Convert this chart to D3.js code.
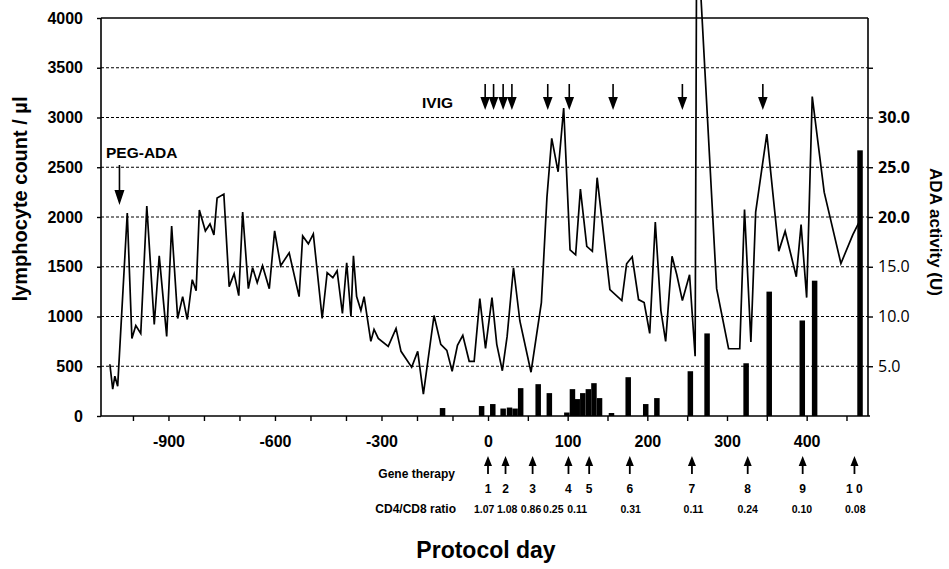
<!DOCTYPE html>
<html>
<head>
<meta charset="utf-8">
<script src="https://cdn.jsdelivr.net/npm/d3@7"></script>
<style>
  body { margin: 0; background: #fff; }
  svg text { font-family: "Liberation Sans", Arial, Helvetica, sans-serif; font-weight: bold; fill: #000; }
</style>
</head>
<body>
<svg id="chart" width="949" height="569"></svg>
<script>
// lymphocyte count per µl, by protocol day
const lymphDays = [-1065, -1057, -1051, -1043, -1016, -1003, -992, -978, -961, -940, -926, -905, -891, -874, -860, -847, -833, -822, -813, -796, -783, -772, -763, -744, -729, -715, -702, -691, -675, -663, -650, -635, -616, -601, -584, -560, -532, -522, -506, -492, -467, -453, -437, -425, -410, -398, -386, -379, -370, -358, -349, -330, -321, -309, -281, -259, -245, -215, -198, -182, -152, -133, -116, -101, -86, -71, -53, -39, -23, -7, 5, 11, 18, 24, 32, 40, 54, 67, 74, 80, 88, 95, 103, 110, 116, 124, 131, 137, 153, 168, 174, 181, 189, 196, 203, 210, 217, 223, 231, 237, 244, 253, 260, 262, 287, 302, 316, 322, 330, 336, 350, 365, 373, 387, 393, 400, 407, 422, 443, 458, 466];
const lymphCounts = [520, 270, 400, 300, 2040, 780, 910, 830, 2110, 920, 1610, 800, 1910, 980, 1200, 970, 1370, 1260, 2070, 1860, 1930, 1820, 2190, 2230, 1300, 1430, 1210, 2050, 1280, 1490, 1340, 1510, 1280, 1860, 1510, 1640, 1200, 1810, 1730, 1830, 980, 1440, 1390, 1460, 1030, 1540, 1000, 1610, 1200, 1060, 1200, 750, 870, 780, 700, 880, 650, 490, 650, 220, 1010, 720, 660, 450, 710, 810, 550, 550, 1180, 680, 1190, 720, 455, 800, 1490, 955, 440, 1140, 2200, 2790, 2455, 3095, 1670, 1620, 2280, 1705, 1655, 2395, 1270, 1160, 1530, 1600, 1170, 1140, 830, 1950, 1060, 750, 1605, 1420, 1160, 1420, 600, 5000, 1280, 676, 676, 2076, 743, 2050, 2833, 1657, 1857, 1400, 1923, 1190, 3210, 2250, 1533, 1823, 1950];

// ADA activity (U), bars
const adaDays = [-128, -18, 6, 19, 27, 34, 41, 63, 77, 99, 106, 112, 119, 126, 133, 140, 155, 176, 198, 212, 254, 275, 324, 353, 394.5, 410, 467];
const adaValues = [0.8, 1.0, 1.2, 0.75, 0.85, 0.75, 2.8, 3.2, 2.3, 0.35, 2.7, 1.7, 2.3, 2.7, 3.3, 1.8, 0.3, 3.9, 1.2, 1.8, 4.5, 8.3, 5.3, 12.5, 9.6, 13.6, 26.7];

// events
const pegAdaDay = -1038;
const ivigDays = [-8, 7, 19, 30, 75, 102, 157, 244, 345];
const geneDays = [0, 22, 56, 101, 127, 178, 256, 326, 395, 460];
const geneLabels = ["1", "2", "3", "4", "5", "6", "7", "8", "9", "1 0"];
const cd4cd8Ratios = ["1.07", "1.08", "0.86", "0.25", "0.11", "0.31", "0.11", "0.24", "0.10", "0.08"];
// day under which each ratio is printed (crowded ones are spread apart)
const ratioLabelDays = [-11, 24, 54, 82, 112, 179, 258, 326, 394, 461];

// axes
const lymphTicks = [0, 500, 1000, 1500, 2000, 2500, 3000, 3500, 4000];
const gridValues = [500, 1000, 1500, 2000, 2500, 3000, 3500];
const adaTicks = [5, 10, 15, 20, 25, 30, 35];
const adaLabelMax = 30;
const dayTicks = [-1000, -900, -800, -700, -600, -500, -400, -300, -200, -100, 0, 50, 100, 150, 200, 250, 300, 350, 400, 450];
const dayLabels = [-900, -600, -300, 0, 100, 200, 300, 400];

const svg = d3.select("#chart");
const plotL = 101, plotR = 868, plotT = 18, plotB = 416;

// broken time scale: pre-treatment days are compressed
const x = d3.scaleLinear().domain([-1090, 0, 477]).range([plotL, 488, plotR]);
const y = d3.scaleLinear().domain([0, 4000]).range([plotB, plotT]);
const yAda = d3.scaleLinear().domain([0, 40]).range([plotB, plotT]);

// dashed grid
svg.append("g")
  .selectAll("line")
  .data(gridValues)
  .join("line")
  .attr("x1", plotL).attr("x2", plotR)
  .attr("y1", d => y(d)).attr("y2", d => y(d))
  .attr("stroke", "#000")
  .attr("stroke-width", 1.2)
  .attr("stroke-dasharray", "3,2");

// top frame
svg.append("line")
  .attr("x1", plotL).attr("x2", plotR)
  .attr("y1", y(4000)).attr("y2", y(4000))
  .attr("stroke", "#000").attr("stroke-width", 1.5);

// bars
svg.append("g")
  .selectAll("rect")
  .data(adaDays)
  .join("rect")
  .attr("x", d => x(d) - 2.75)
  .attr("width", 5.5)
  .attr("y", (d, i) => yAda(adaValues[i]))
  .attr("height", (d, i) => yAda(0) - yAda(adaValues[i]))
  .attr("fill", "#000");

// lymphocyte line
const line = d3.line()
  .x(d => x(d[0]))
  .y(d => y(d[1]));

svg.append("path")
  .datum(d3.zip(lymphDays, lymphCounts))
  .attr("d", line)
  .attr("fill", "none")
  .attr("stroke", "#000")
  .attr("stroke-width", 1.7)
  .attr("stroke-linejoin", "miter");

// axes
const xAxis = svg.append("g")
  .attr("transform", `translate(0,${plotB})`)
  .call(d3.axisBottom(x)
    .tickValues(dayTicks)
    .tickFormat(d => dayLabels.includes(d) ? d : "")
    .tickSize(5).tickSizeOuter(0).tickPadding(15));

const yAxis = svg.append("g")
  .attr("transform", `translate(${plotL},0)`)
  .call(d3.axisLeft(y)
    .tickValues(lymphTicks)
    .tickFormat(d3.format("d"))
    .tickSize(4).tickSizeOuter(0).tickPadding(14));

const yAxisR = svg.append("g")
  .attr("transform", `translate(${plotR},0)`)
  .call(d3.axisRight(yAda)
    .tickValues(adaTicks)
    .tickFormat(d => d <= adaLabelMax ? d.toFixed(1) : "")
    .tickSize(5).tickSizeOuter(0).tickPadding(5));

[xAxis, yAxis, yAxisR].forEach(g => {
  g.select(".domain").attr("stroke", "#000").attr("stroke-width", 1.6);
  g.selectAll(".tick line").attr("stroke", "#000").attr("stroke-width", 1.4);
  g.selectAll("text").attr("font-size", 16).attr("fill", "#000");
});
xAxis.select(".domain").attr("d", `M${plotL},0H${plotR + 2}`);
yAxis.select(".domain").attr("d", `M0,${plotT}V${plotB}`);
yAxisR.select(".domain").attr("d", `M0,${plotT}V${plotB}`);
yAxisR.selectAll("text")
  .style("font-family", "'Open Sans', 'DejaVu Sans', sans-serif")
  .style("font-weight", d => d >= 20 ? 700 : 400);

// axis titles
svg.append("text")
  .attr("transform", `translate(27,199) rotate(-90)`)
  .attr("text-anchor", "middle")
  .attr("font-size", 20)
  .text("lymphocyte count / µl");

svg.append("text")
  .attr("transform", `translate(930,232) rotate(90)`)
  .attr("text-anchor", "middle")
  .attr("font-size", 17)
  .text("ADA activity (U)");

svg.append("text")
  .attr("x", 486).attr("y", 558)
  .attr("text-anchor", "middle")
  .attr("font-size", 23)
  .text("Protocol day");

// arrows
function downArrow(g, cx, yTop, yTip, hw, hh) {
  g.append("line")
    .attr("x1", cx).attr("x2", cx)
    .attr("y1", yTop).attr("y2", yTip - hh + 1)
    .attr("stroke", "#000").attr("stroke-width", 1.6);
  g.append("path")
    .attr("d", `M${cx - hw},${yTip - hh}L${cx + hw},${yTip - hh}L${cx},${yTip}Z`)
    .attr("fill", "#000");
}
function upArrow(g, cx, yTip, yBottom, hw, hh) {
  g.append("line")
    .attr("x1", cx).attr("x2", cx)
    .attr("y1", yTip + hh - 1).attr("y2", yBottom)
    .attr("stroke", "#000").attr("stroke-width", 1.8);
  g.append("path")
    .attr("d", `M${cx - hw},${yTip + hh}L${cx + hw},${yTip + hh}L${cx},${yTip}Z`)
    .attr("fill", "#000");
}

const ann = svg.append("g");

ann.append("text")
  .attr("x", 106).attr("y", 158)
  .attr("font-size", 15.5)
  .text("PEG-ADA");
downArrow(ann, x(pegAdaDay), 165, 205, 5, 15);

ann.append("text")
  .attr("x", 422).attr("y", 108)
  .attr("font-size", 15.5)
  .text("IVIG");
ivigDays.forEach(d => downArrow(ann, x(d), 84, 110, 4.8, 13));

ann.append("text")
  .attr("x", 455).attr("y", 478)
  .attr("text-anchor", "end")
  .attr("font-size", 12)
  .text("Gene therapy");
ann.append("text")
  .attr("x", 456).attr("y", 513)
  .attr("text-anchor", "end")
  .attr("font-size", 12)
  .text("CD4/CD8 ratio");

geneDays.forEach((d, i) => {
  upArrow(ann, x(d), 456, 474, 4, 10);
  ann.append("text")
    .attr("x", x(d)).attr("y", 493)
    .attr("text-anchor", "middle")
    .attr("font-size", 12)
    .text(geneLabels[i]);
});

ann.selectAll(".ratio")
  .data(cd4cd8Ratios)
  .join("text")
  .attr("class", "ratio")
  .attr("x", (d, i) => x(ratioLabelDays[i]))
  .attr("y", 513)
  .attr("text-anchor", "middle")
  .attr("font-size", 10.5)
  .text(d => d);
</script>
</body>
</html>
